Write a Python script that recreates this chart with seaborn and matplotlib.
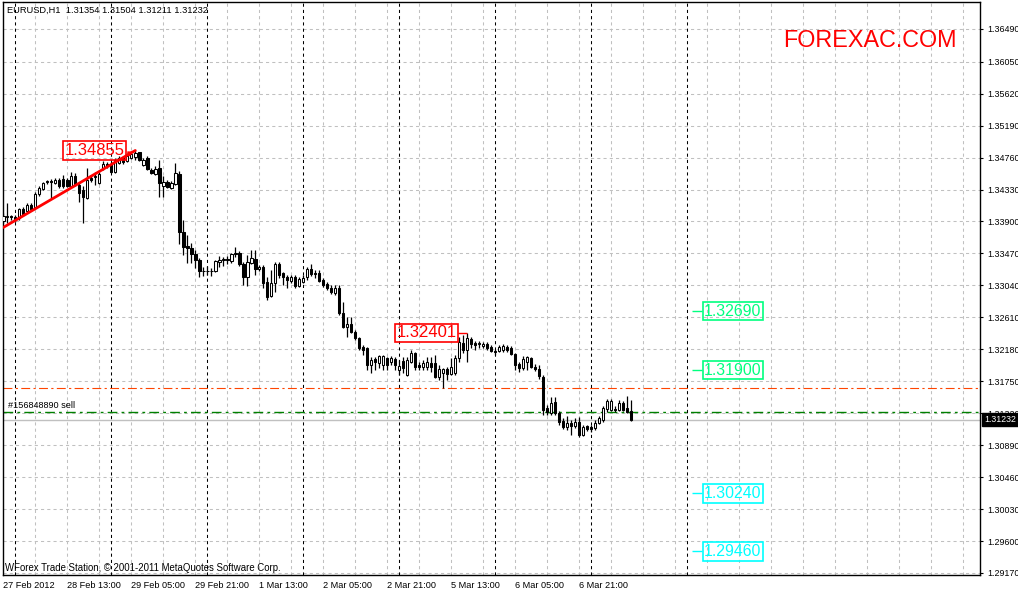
import numpy as np
import pandas as pd
import matplotlib
matplotlib.use('Agg')
import matplotlib.pyplot as plt
import matplotlib.transforms as mtrans
import seaborn as sns

open_ = [1.3391, 1.3396, 1.3397, 1.3396, 1.3394, 1.3407, 1.3404, 1.3412, 1.3409, 1.3427,
         1.3434, 1.3443, 1.3444, 1.3442, 1.3446, 1.3447, 1.3446, 1.3438, 1.3451, 1.3439,
         1.3432, 1.3422, 1.3448, 1.3450, 1.3442, 1.3462, 1.3467, 1.3467, 1.3457, 1.3469,
         1.3475, 1.3471, 1.3475, 1.3477, 1.3483, 1.3466, 1.3475, 1.3459, 1.3454, 1.3462,
         1.3438, 1.3443, 1.3435, 1.3440, 1.3454, 1.3376, 1.3357, 1.3354, 1.3346, 1.3338,
         1.3323, 1.3324, 1.3323, 1.3323, 1.3336, 1.3338, 1.3339, 1.3337, 1.3346, 1.3347,
         1.3333, 1.3315, 1.3334, 1.3340, 1.3326, 1.3329, 1.3308, 1.3290, 1.3307, 1.3333,
         1.3320, 1.3315, 1.3310, 1.3315, 1.3303, 1.3309, 1.3315, 1.3326, 1.3320, 1.3320,
         1.3311, 1.3306, 1.3300, 1.3294, 1.3300, 1.3267, 1.3248, 1.3252, 1.3241, 1.3233,
         1.3221, 1.3220, 1.3197, 1.3205, 1.3200, 1.3197, 1.3206, 1.3201, 1.3205, 1.3190,
         1.3202, 1.3183, 1.3201, 1.3213, 1.3197, 1.3194, 1.3194, 1.3200, 1.3200, 1.3181,
         1.3186, 1.3191, 1.3185, 1.3186, 1.3206, 1.3226, 1.3217, 1.3232, 1.3226, 1.3225,
         1.3222, 1.3225, 1.3221, 1.3216, 1.3216, 1.3217, 1.3221, 1.3220, 1.3212, 1.3198,
         1.3193, 1.3201, 1.3206, 1.3194, 1.3191, 1.3181, 1.3139, 1.3132, 1.3147, 1.3132,
         1.3121, 1.3113, 1.3119, 1.3115, 1.3120, 1.3103, 1.3115, 1.3113, 1.3112, 1.3119,
         1.3123, 1.3138, 1.3136, 1.3138, 1.3136, 1.3146, 1.3139, 1.31354]
high = [1.3401, 1.3415, 1.3399, 1.3399, 1.3408, 1.3410, 1.3415, 1.3415, 1.3430, 1.3438,
        1.3443, 1.3446, 1.3447, 1.3448, 1.3448, 1.3452, 1.3448, 1.3457, 1.3455, 1.3443,
        1.3438, 1.3462, 1.3453, 1.3457, 1.3457, 1.3471, 1.3470, 1.3470, 1.3475, 1.3478,
        1.3478, 1.3482, 1.3484, 1.34855, 1.3484, 1.3475, 1.3478, 1.3462, 1.3465, 1.3473,
        1.3451, 1.3446, 1.3444, 1.3469, 1.3458, 1.3392, 1.3372, 1.3361, 1.3352, 1.3341,
        1.3329, 1.3330, 1.3327, 1.3338, 1.3343, 1.3342, 1.3343, 1.3348, 1.3355, 1.3350,
        1.3335, 1.3345, 1.3352, 1.3352, 1.3331, 1.3331, 1.3315, 1.3325, 1.3335, 1.3335,
        1.3322, 1.3318, 1.3318, 1.3318, 1.3315, 1.3318, 1.3329, 1.3333, 1.3325, 1.3325,
        1.3314, 1.3309, 1.3305, 1.3305, 1.3305, 1.3282, 1.3261, 1.3261, 1.3244, 1.3235,
        1.3224, 1.3221, 1.3208, 1.3208, 1.3210, 1.3210, 1.3208, 1.3209, 1.3208, 1.3204,
        1.3208, 1.3208, 1.3217, 1.3214, 1.3201, 1.3204, 1.3208, 1.3208, 1.3210, 1.3197,
        1.3193, 1.3194, 1.3206, 1.3210, 1.3235, 1.3237, 1.32401, 1.3235, 1.3229, 1.3229,
        1.3228, 1.3228, 1.3224, 1.3218, 1.3224, 1.3225, 1.3224, 1.3222, 1.3213, 1.3201,
        1.3209, 1.3209, 1.3208, 1.3198, 1.3197, 1.3183, 1.3143, 1.3154, 1.3154, 1.3135,
        1.3125, 1.3128, 1.3123, 1.3125, 1.3127, 1.3116, 1.3116, 1.3116, 1.3123, 1.3128,
        1.3142, 1.3151, 1.3151, 1.3142, 1.3150, 1.3148, 1.3155, 1.31504]
low = [1.3388, 1.3388, 1.3392, 1.3389, 1.3392, 1.3397, 1.3403, 1.3405, 1.3408, 1.3424,
       1.3432, 1.3440, 1.3422, 1.3440, 1.3435, 1.3435, 1.3436, 1.3436, 1.3438, 1.3416,
       1.3388, 1.3420, 1.3443, 1.3439, 1.3440, 1.3459, 1.3462, 1.3455, 1.3455, 1.3467,
       1.3467, 1.3470, 1.3474, 1.3473, 1.3471, 1.3465, 1.3459, 1.3454, 1.3452, 1.3423,
       1.3423, 1.3435, 1.3434, 1.3439, 1.3360, 1.3345, 1.3334, 1.3334, 1.3327, 1.3315,
       1.3317, 1.3318, 1.3317, 1.3322, 1.3329, 1.3330, 1.3333, 1.3334, 1.3342, 1.3330,
       1.3305, 1.3303, 1.3333, 1.3318, 1.3323, 1.3300, 1.3284, 1.3288, 1.3295, 1.3314,
       1.3305, 1.3300, 1.3307, 1.3300, 1.3302, 1.3307, 1.3311, 1.3317, 1.3314, 1.3309,
       1.3302, 1.3298, 1.3292, 1.3291, 1.3264, 1.3246, 1.3235, 1.3240, 1.3230, 1.3217,
       1.3210, 1.3190, 1.3186, 1.3190, 1.3193, 1.3190, 1.3190, 1.3197, 1.3190, 1.3183,
       1.3186, 1.3182, 1.3200, 1.3190, 1.3190, 1.3190, 1.3190, 1.3187, 1.3179, 1.3177,
       1.3166, 1.3177, 1.3183, 1.3183, 1.3201, 1.3213, 1.3201, 1.3220, 1.3217, 1.3220,
       1.3220, 1.3217, 1.3214, 1.3210, 1.3214, 1.3214, 1.3214, 1.3210, 1.3190, 1.3187,
       1.3190, 1.3190, 1.3193, 1.3189, 1.3178, 1.3130, 1.3130, 1.3130, 1.3130, 1.3116,
       1.3111, 1.3109, 1.3103, 1.3112, 1.3100, 1.3101, 1.3108, 1.3107, 1.3109, 1.3118,
       1.3120, 1.3134, 1.3135, 1.3134, 1.3135, 1.3135, 1.3132, 1.31211]
close = [1.3397, 1.3397, 1.3396, 1.3392, 1.3407, 1.3400, 1.3412, 1.3407, 1.3427, 1.3435,
         1.3442, 1.3444, 1.3443, 1.3446, 1.3438, 1.3438, 1.3438, 1.3451, 1.3439, 1.3428,
         1.3423, 1.3446, 1.3446, 1.3451, 1.3454, 1.3467, 1.3465, 1.3457, 1.3473, 1.3475,
         1.3470, 1.3478, 1.3481, 1.3482, 1.3473, 1.3473, 1.3461, 1.3455, 1.3461, 1.3442,
         1.3443, 1.3436, 1.3442, 1.3455, 1.3376, 1.3355, 1.3354, 1.3346, 1.3338, 1.3323,
         1.3324, 1.3323, 1.3324, 1.3337, 1.3338, 1.3339, 1.3338, 1.3346, 1.3347, 1.3333,
         1.3315, 1.3335, 1.3341, 1.3326, 1.3329, 1.3307, 1.3288, 1.3307, 1.3333, 1.3318,
         1.3315, 1.3311, 1.3315, 1.3303, 1.3313, 1.3314, 1.3326, 1.3319, 1.3319, 1.3310,
         1.3305, 1.3300, 1.3295, 1.3300, 1.3267, 1.3248, 1.3252, 1.3241, 1.3233, 1.3220,
         1.3217, 1.3197, 1.3204, 1.3201, 1.3209, 1.3209, 1.3197, 1.3206, 1.3197, 1.3196,
         1.3193, 1.3204, 1.3213, 1.3194, 1.3194, 1.3200, 1.3201, 1.3194, 1.3181, 1.3192,
         1.3191, 1.3185, 1.3194, 1.3206, 1.3228, 1.3217, 1.3233, 1.3225, 1.3224, 1.3226,
         1.3225, 1.3220, 1.3216, 1.3215, 1.3221, 1.3222, 1.3217, 1.3212, 1.3197, 1.3193,
         1.3205, 1.3208, 1.3194, 1.3191, 1.3182, 1.3136, 1.3134, 1.3146, 1.3132, 1.3120,
         1.3113, 1.3119, 1.3115, 1.3120, 1.3103, 1.3113, 1.3111, 1.3111, 1.3119, 1.3126,
         1.3139, 1.3148, 1.3148, 1.3136, 1.3146, 1.3136, 1.3134, 1.31232]

time_labels = ['27 Feb 2012', '28 Feb 13:00', '29 Feb 05:00', '29 Feb 21:00', '1 Mar 13:00',
               '2 Mar 05:00', '2 Mar 21:00', '5 Mar 13:00', '6 Mar 05:00', '6 Mar 21:00']
price_labels = ['1.36490', '1.36050', '1.35620', '1.35190', '1.34760', '1.34330',
                '1.33900', '1.33470', '1.33040', '1.32610', '1.32180', '1.31750',
                '1.31320', '1.30890', '1.30460', '1.30030', '1.29600', '1.29170']

trend_x = [0, 33]
trend_y = [1.3382, 1.34855]
peak_label = '1.34855'
swing_label = '1.32401'
green_levels = ['1.32690', '1.31900']
cyan_levels = ['1.30240', '1.29460']
stop_line = 1.31655
order_line = 1.31332
bid = 1.31232
title = 'EURUSD,H1  1.31354 1.31504 1.31211 1.31232'

# ── Mise en forme ───────────────────────────────────────────────────
sns.set_style('white')
plt.rcParams['font.family'] = ['Liberation Sans', 'DejaVu Sans']

df = pd.DataFrame({'open': open_, 'high': high, 'low': low, 'close': close})
df['bar'] = np.arange(len(df))
df['bull'] = df['close'] >= df['open']

fig = plt.figure(figsize=(10.18, 5.92), dpi=100)
ax = fig.add_axes([2.5 / 1018, 17 / 592, 977.5 / 1018, 573 / 592])
ax.set_xlim(-0.2, 244.175)
ax.set_ylim(1.29143, 1.36853)

# grille
grid_dash = (0, (3, 3))
for p in price_labels:
    ax.axhline(float(p), color='#c0c0c0', lw=0.75, ls=grid_dash, zorder=0)
for xv in range(8, 241, 8):
    ax.axvline(xv, color='#c0c0c0', lw=0.75, ls=grid_dash, zorder=0)
# séparateurs de jours
for xv in range(3, 172, 24):
    ax.axvline(xv, color='black', lw=0.75, ls=grid_dash, zorder=0.5)

# lignes d'ordre
ax.axhline(stop_line, color='#ff4500', lw=0.8, ls=(0, (8, 3, 2, 3)), zorder=1)
ax.axhline(order_line, color='#008000', lw=1.0, ls=(0, (7, 3, 2, 3)), zorder=1)
ax.axhline(bid, color='#c0c0c0', lw=1.0, zorder=1)

# bougies
ax.vlines(df['bar'], df['low'], df['high'], color='black', lw=0.9, zorder=3)
body_lo = df[['open', 'close']].min(axis=1)
body_h = (df['close'] - df['open']).abs()
ax.bar(df['bar'], body_h, bottom=body_lo, width=0.6,
       color=np.where(df['bull'], 'white', 'black'),
       edgecolor='black', linewidth=0.75, zorder=4)

# ligne de tendance
sns.lineplot(x=trend_x, y=trend_y, color='red', lw=2, ax=ax, zorder=5)
ax.annotate('', xy=(trend_x[1] + 0.2, trend_y[1]), xytext=(trend_x[1] - 1.5, trend_y[1] - 0.0004),
            arrowprops=dict(arrowstyle='-|>', color='red', lw=1, mutation_scale=7), zorder=6)

box_kw = dict(boxstyle='square,pad=0.1', fc='none', lw=1.2)
ax.text(30.35, float(peak_label), peak_label, ha='right', va='center', color='red',
        fontsize=12, bbox=dict(ec='red', **box_kw), zorder=6)
ax.text(113.35, float(swing_label), swing_label, ha='right', va='center', color='red',
        fontsize=12, bbox=dict(ec='red', **box_kw), zorder=6)
ax.hlines(float(swing_label), 113.6, 116, color='red', lw=1, zorder=6)

for labels, col in [(green_levels, '#00ff7f'), (cyan_levels, '#00ffff')]:
    for lab in labels:
        v = float(lab)
        ax.hlines(v, 172.2, 174.7, color=col, lw=1, zorder=6)
        ax.text(175.2, v, lab, ha='left', va='center', color=col, fontsize=11.4,
                bbox=dict(ec=col, **box_kw), zorder=6)

# textes
ax.text(0.0043, 0.9848, title, transform=ax.transAxes, ha='left', va='center',
        fontsize=6.7, color='black')
ax.text(0.7985, 0.9328, 'FOREXAC.COM', transform=ax.transAxes, ha='left', va='center',
        fontsize=16.8, color='red')
ax.text(0.0026, 0.0127, 'WForex Trade Station, © 2001-2011 MetaQuotes Software Corp.',
        transform=ax.transAxes, ha='left', va='center', fontsize=6.9, color='black')
ax.annotate('#156848890 sell', xy=(1.2, order_line), xytext=(0, 1.5), textcoords='offset points',
            ha='left', va='bottom', fontsize=6.6, color='black')

# axes
ax.yaxis.tick_right()
ax.set_yticks([float(p) for p in price_labels], price_labels)
ax.tick_params(axis='y', length=2.5, width=0.8, pad=2.5, labelsize=6.4, colors='black')
ax.set_xticks(np.arange(0, 145, 16), time_labels)
ax.tick_params(axis='x', length=3, width=0.8, pad=1.5, labelsize=6.6, colors='black')
for t in ax.get_xticklabels():
    t.set_ha('left')
for s in ax.spines.values():
    s.set_color('black')
    s.set_linewidth(1)
ax.set_xlabel('')
ax.set_ylabel('')

# étiquette du prix courant, posée sur l'échelle comme dans MT4
blend = mtrans.blended_transform_factory(ax.transAxes, ax.transData)
ax.text(1.0042, bid, '1.31232', transform=blend, ha='left', va='center', color='white',
        fontsize=6.3, clip_on=False, zorder=10,
        bbox=dict(boxstyle='square,pad=0.2', fc='black', ec='black'))

fig.savefig('out.png', dpi=100, facecolor='white')
